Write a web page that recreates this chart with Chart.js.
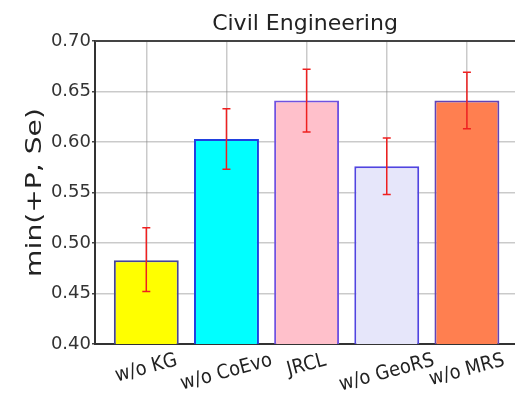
<!DOCTYPE html>
<html>
<head>
<meta charset="utf-8">
<script src="https://cdn.jsdelivr.net/npm/chart.js@4/dist/chart.umd.min.js"></script>
<style>
  html, body { margin: 0; padding: 0; background: #fff; }
  canvas { display: block; }
</style>
</head>
<body>
<canvas id="civil" width="515" height="397"></canvas>
<script>
// data
var categories = ['w/o KG', 'w/o CoEvo', 'JRCL', 'w/o GeoRS', 'w/o MRS'];
var scores = [0.483, 0.603, 0.641, 0.576, 0.641];
var errLow = [0.452, 0.573, 0.610, 0.548, 0.613];
var errHigh = [0.515, 0.633, 0.672, 0.604, 0.669];
var yTicks = [0.40, 0.45, 0.50, 0.55, 0.60, 0.65, 0.70];

var fills = ['#ffff00', '#00ffff', '#ffc0cb', '#e6e6fa', '#ff7f50'];
var edges = ['#44449a', '#2040e0', '#7052e0', '#5044e0', '#6044b8'];

var FONT = 'DejaVu Sans';

// error bars drawn on top of everything
var errorBars = {
    id: 'errorBars',
    afterDraw: function(chart) {
        var c = chart.ctx, xs = chart.scales.x, ys = chart.scales.y;
        c.save();
        c.strokeStyle = '#ee2020';
        c.lineWidth = 1.5;
        for (var i = 0; i < scores.length; i++) {
            var x = xs.getPixelForValue(i);
            var y1 = ys.getPixelForValue(errLow[i]);
            var y2 = ys.getPixelForValue(errHigh[i]);
            c.beginPath();
            c.moveTo(x, y1); c.lineTo(x, y2);
            c.moveTo(x - 4, y1); c.lineTo(x + 4, y1);
            c.moveTo(x - 4, y2); c.lineTo(x + 4, y2);
            c.stroke();
        }
        c.restore();
    }
};

// top spine, rotated category labels and the y title
var extras = {
    id: 'extras',
    afterDraw: function(chart) {
        var c = chart.ctx, a = chart.chartArea, xs = chart.scales.x;
        c.save();
        c.strokeStyle = '#444';
        c.lineWidth = 2;
        c.beginPath();
        c.moveTo(a.left, a.top); c.lineTo(a.right, a.top);
        c.stroke();

        var ang = 15 * Math.PI / 180;
        c.font = '18px "' + FONT + '"';
        c.fillStyle = '#222';
        c.textAlign = 'center';
        c.textBaseline = 'middle';
        categories.forEach(function(lab, i) {
            var w = c.measureText(lab).width;
            var h = 17;
            var cy = a.bottom + 8 + (w * Math.sin(ang) + h * Math.cos(ang)) / 2;
            c.save();
            c.translate(xs.getPixelForValue(i), cy);
            c.rotate(-ang);
            c.scale(1, 1.1);
            c.fillText(lab, 0, 0);
            c.restore();
        });

        // y title, stretched along its length like the reference
        c.save();
        c.font = '22px "' + FONT + '"';
        c.translate(35, (a.top + a.bottom) / 2);
        c.rotate(-Math.PI / 2);
        c.scale(1.28, 1);
        c.fillText('min(+P, Se)', 0, 0);
        c.restore();
        c.restore();
    }
};

var gridColor = 'rgba(128,128,128,0.42)';

new Chart(document.getElementById('civil'), {
    type: 'bar',
    data: {
        datasets: [{
            data: scores.map(function(v, i) { return {x: i, y: v}; }),
            backgroundColor: fills,
            borderColor: edges,
            borderWidth: 2,
            barPercentage: 0.81,
            categoryPercentage: 1.0
        }]
    },
    options: {
        responsive: false,
        animation: false,
        layout: { padding: 0 },
        plugins: {
            legend: { display: false },
            tooltip: { enabled: false },
            title: {
                display: true,
                text: 'Civil Engineering',
                fullSize: false,
                color: '#222',
                font: { family: FONT, size: 22, weight: 'normal' },
                padding: { top: 11, bottom: 3.6 }
            }
        },
        scales: {
            x: {
                type: 'linear',
                min: -0.64,
                max: 4.6,
                offset: false,
                z: 1,
                ticks: { display: false, stepSize: 1, includeBounds: false },
                grid: { color: gridColor, lineWidth: 1.5, drawTicks: false, offset: false },
                border: { color: '#333', width: 2 },
                afterFit: function(s) { s.height = 53; }
            },
            y: {
                min: 0.4,
                max: 0.7,
                z: 1,
                afterBuildTicks: function(s) {
                    s.ticks = yTicks.map(function(v) { return {value: v}; });
                },
                ticks: {
                    color: '#333',
                    padding: 1,
                    font: { family: FONT, size: 18 },
                    callback: function(v) { return Number(v).toFixed(2); }
                },
                grid: { color: gridColor, lineWidth: 1.5, tickLength: 3, tickColor: '#444' },
                border: { color: '#333', width: 2 },
                afterFit: function(s) { s.width = 95; }
            }
        }
    },
    plugins: [errorBars, extras]
});
</script>
</body>
</html>
